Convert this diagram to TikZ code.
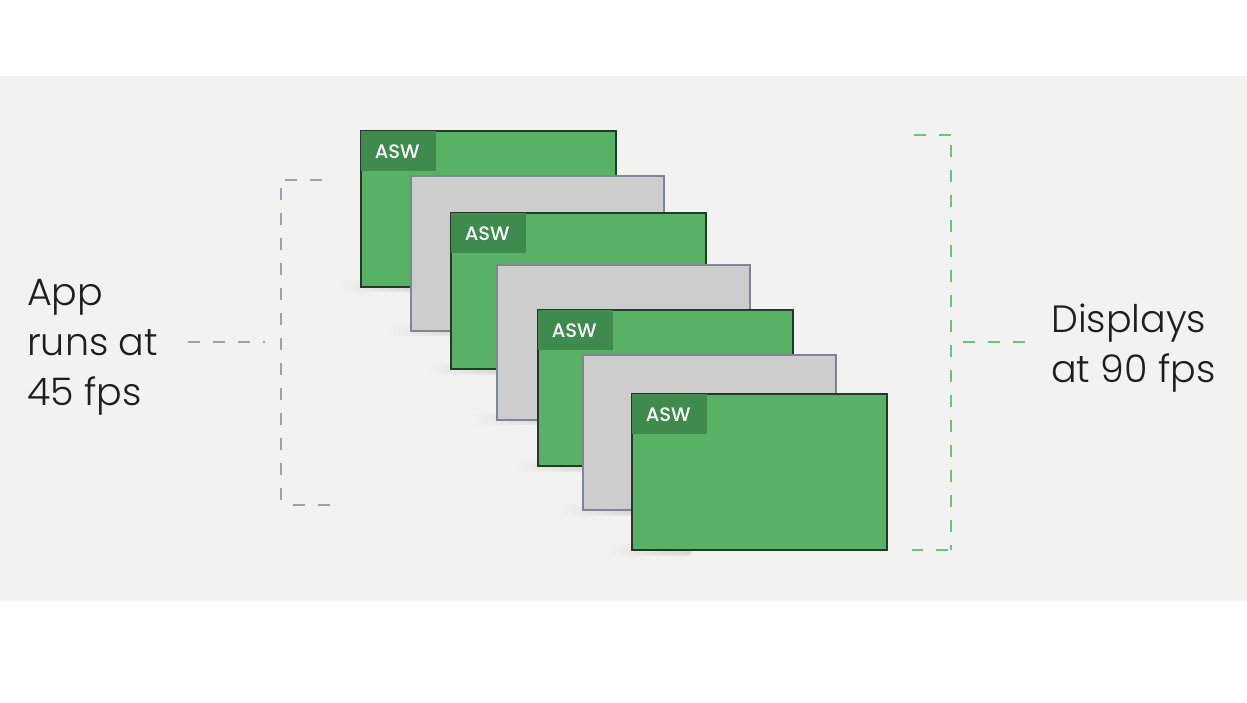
\documentclass[tikz,border=0pt]{standalone}
\usepackage{fontspec}
\usetikzlibrary{fadings,calc}
\setmainfont{Poppins}[UprightFont=* Light, BoldFont=* Medium]
\definecolor{bgband}{HTML}{F2F2F1}
\definecolor{fillG}{HTML}{58B266}
\definecolor{tagG}{HTML}{3F8A4D}
\definecolor{frameG}{HTML}{243A29}
\definecolor{fillY}{HTML}{CDCDCD}
\definecolor{frameY}{HTML}{7F8594}
\definecolor{brkL}{HTML}{9CA1AD}
\definecolor{brkR}{HTML}{6DC07F}
\definecolor{txt}{HTML}{1E1E1E}
\tikzfading[name=shadowfade, left color=transparent!100, right color=transparent!0]
\tikzset{
  greenframe/.style={draw=frameG, fill=fillG, line width=1.4pt, minimum width=255pt, minimum height=156pt, anchor=north west, inner sep=0pt, outer sep=0pt},
  grayframe/.style={draw=frameY, fill=fillY, line width=1.4pt, minimum width=253pt, minimum height=155pt, anchor=north west, inner sep=0pt, outer sep=0pt},
  tagbox/.style={fill=tagG, minimum width=75pt, minimum height=40pt, anchor=north west, inner sep=0pt, text=white, font=\bfseries\fontsize{19.5}{19.5}\selectfont},
  bigtext/.style={text=txt, align=left, inner sep=0pt, font=\fontsize{38}{50}\selectfont},
  brkline/.style={dash pattern=on 12pt off 13pt, line width=1.7pt},
  shadowblob/.style={fill=black, opacity=0.07, path fading=shadowfade, rounded corners=4pt},
}
\newcommand{\softshadow}[2]{% x, ybottom
  \fill[shadowblob] ({#1-30},{#2-7}) rectangle ({#1+60},{#2+5});
  \fill[shadowblob, opacity=0.05] ({#1-20},{#2-4}) rectangle ({#1+60},{#2+3});
}
\begin{document}
\begin{tikzpicture}[x=1pt,y=-1pt]
\useasboundingbox (0,0) rectangle (1247,702);
\fill[white] (0,0) rectangle (1247,702);
\fill[bgband] (0,76) rectangle (1247,601);

% frames
\softshadow{361}{287}
\node[greenframe] (g1) at (361,131) {};
\node[tagbox] (t1) at (g1.north west) {\hspace*{-3pt}ASW};
\softshadow{411}{331}
\node[grayframe] (y2) at (411,176) {};
\softshadow{451}{370}
\node[greenframe] (g3) at (451,213) {};
\node[tagbox] (t3) at (g3.north west) {\hspace*{-3pt}ASW};
\softshadow{497}{420}
\node[grayframe] (y4) at (497,265) {};
\softshadow{538}{467}
\node[greenframe] (g5) at (538,310) {};
\node[tagbox] (t5) at (g5.north west) {\hspace*{-3pt}ASW};
\softshadow{583}{511}
\node[grayframe] (y6) at (583,355) {};
\softshadow{632}{551}
\node[greenframe] (g7) at (632,394) {};
\node[tagbox] (t7) at (g7.north west) {\hspace*{-3pt}ASW};

% left label and bracket
\node[bigtext, anchor=north west] (app) at (27,279) {App\\runs at\\45 fps};
\coordinate (lt0) at (322,180);
\coordinate (lt1) at (281,180);
\coordinate (lb1) at (281,505);
\coordinate (lb0) at (330,505);
\coordinate (lm0) at (188,342);
\coordinate (lm1) at (265,342);
\draw[brkline, draw=brkL] (lt0) -- (lt1);
\draw[brkline, draw=brkL] ($(lt1)+(0,8)$) -- (lb1);
\draw[brkline, draw=brkL] (lb0) -- ($(lb1)+(12,0)$);
\draw[brkline, draw=brkL] (lm0) -- (lm1);

% right label and bracket
\node[bigtext, anchor=north west] (disp) at (1051,304) {Displays\\at 90 fps};
\coordinate (rt0) at (902,135);
\coordinate (rt1) at (951,135);
\coordinate (rb1) at (951,550);
\coordinate (rb0) at (912,550);
\coordinate (rm0) at (963,342);
\coordinate (rm1) at (1025,342);
\draw[brkline, draw=brkR] (rt1) -- (rt0);
\draw[brkline, draw=brkR] ($(rt1)+(0,10)$) -- (rb1);
\draw[brkline, draw=brkR] ($(rb1)+(-3,0)$) -- (rb0);
\draw[brkline, draw=brkR] (rm0) -- (rm1);
\end{tikzpicture}
\end{document}
